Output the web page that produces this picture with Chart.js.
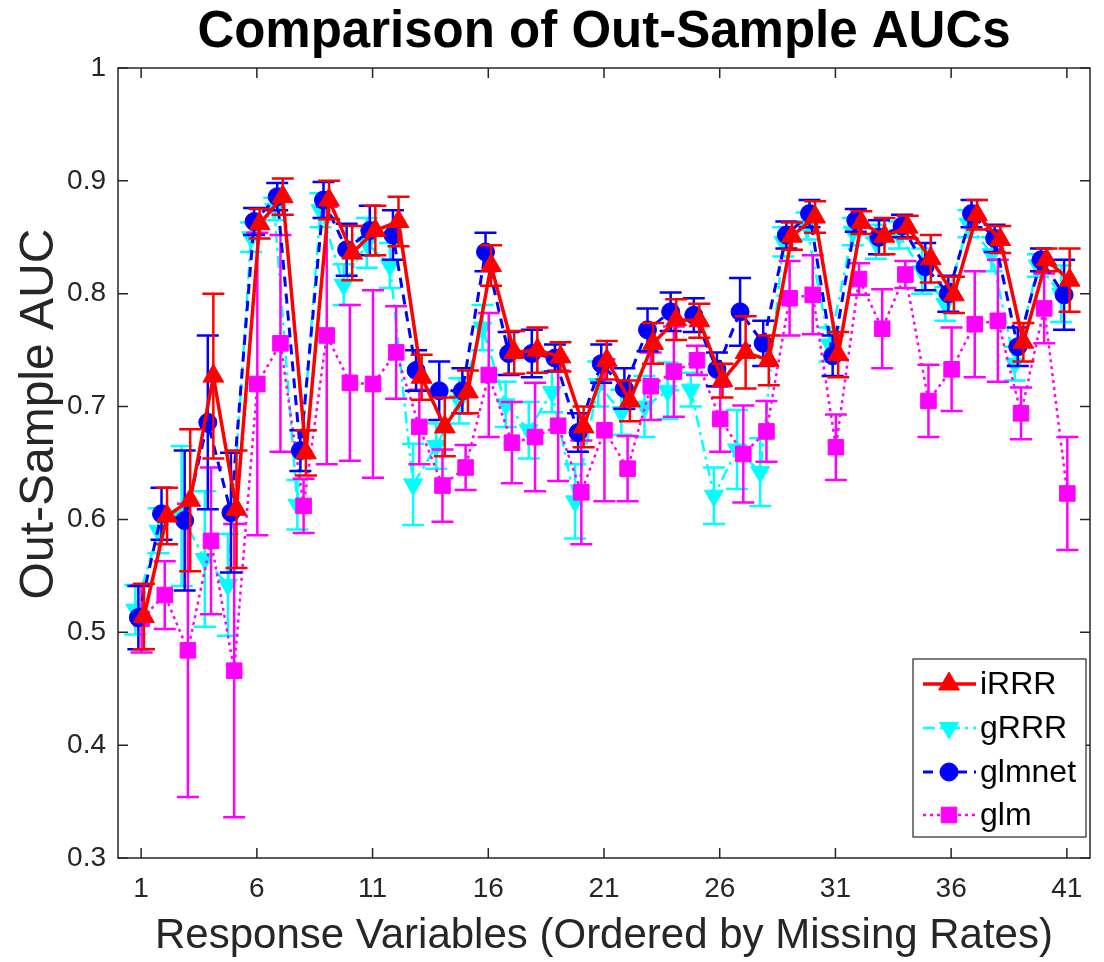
<!DOCTYPE html>
<html>
<head>
<meta charset="utf-8">
<title>Comparison of Out-Sample AUCs</title>
<script src="https://cdn.jsdelivr.net/npm/chart.js@4.4.1/dist/chart.umd.min.js"></script>
<style>
  html, body { margin: 0; padding: 0; background: #fff; }
  #wrap { width: 1104px; height: 962px; }
</style>
</head>
<body>
<div id="wrap"><canvas id="auc-chart" width="1104" height="962"></canvas></div>
<script>
// Response variables, ordered by missing rate
const variables = [1, 2, 3, 4, 5, 6, 7, 8, 9, 10, 11, 12, 13, 14, 15, 16, 17, 18, 19, 20,
    21, 22, 23, 24, 25, 26, 27, 28, 29, 30, 31, 32, 33, 34, 35, 36, 37, 38, 39, 40, 41];
const xTicks = [1, 6, 11, 16, 21, 26, 31, 36, 41];
const yTicks = [0.3, 0.4, 0.5, 0.6, 0.7, 0.8, 0.9, 1];

// mean AUC per method
const iRRR = [0.514, 0.603, 0.617, 0.727, 0.609, 0.862, 0.886, 0.659, 0.883, 0.836,
    0.856, 0.864, 0.726, 0.682, 0.713, 0.825, 0.748, 0.750, 0.744, 0.682,
    0.741, 0.705, 0.756, 0.777, 0.776, 0.723, 0.748, 0.741, 0.851, 0.868,
    0.746, 0.863, 0.851, 0.859, 0.831, 0.799, 0.870, 0.848, 0.757, 0.830, 0.812];
const gRRR = [0.520, 0.590, 0.603, 0.565, 0.542, 0.850, 0.875, 0.613, 0.874, 0.808,
    0.845, 0.825, 0.631, 0.665, 0.705, 0.770, 0.702, 0.679, 0.713, 0.616,
    0.720, 0.695, 0.700, 0.714, 0.715, 0.621, 0.662, 0.642, 0.846, 0.860,
    0.755, 0.855, 0.846, 0.852, 0.820, 0.791, 0.862, 0.835, 0.738, 0.825, 0.800];
const glmnet = [0.513, 0.605, 0.599, 0.686, 0.606, 0.864, 0.886, 0.661, 0.883, 0.839,
    0.856, 0.852, 0.732, 0.714, 0.714, 0.837, 0.747, 0.747, 0.743, 0.677,
    0.738, 0.716, 0.768, 0.784, 0.781, 0.733, 0.784, 0.756, 0.852, 0.871,
    0.745, 0.865, 0.850, 0.860, 0.824, 0.800, 0.871, 0.849, 0.753, 0.830, 0.799];
const glm = [0.512, 0.533, 0.484, 0.581, 0.466, 0.720, 0.756, 0.612, 0.763, 0.721,
    0.720, 0.748, 0.682, 0.630, 0.646, 0.728, 0.668, 0.673, 0.683, 0.624,
    0.679, 0.645, 0.718, 0.731, 0.741, 0.689, 0.658, 0.678, 0.796, 0.799,
    0.664, 0.813, 0.769, 0.817, 0.705, 0.733, 0.773, 0.776, 0.694, 0.787, 0.623];

// error bar half-widths
const iRRRErr = [0.029, 0.025, 0.063, 0.073, 0.052, 0.013, 0.016, 0.020, 0.017, 0.024,
    0.022, 0.022, 0.020, 0.026, 0.019, 0.018, 0.019, 0.020, 0.013, 0.018,
    0.017, 0.018, 0.018, 0.018, 0.015, 0.015, 0.032, 0.022, 0.012, 0.014,
    0.020, 0.010, 0.016, 0.010, 0.021, 0.016, 0.013, 0.012, 0.017, 0.010, 0.028];
const gRRRErr = [0.022, 0.020, 0.062, 0.060, 0.045, 0.013, 0.010, 0.022, 0.015, 0.018,
    0.022, 0.020, 0.036, 0.020, 0.020, 0.020, 0.020, 0.025, 0.018, 0.033,
    0.020, 0.020, 0.027, 0.025, 0.015, 0.025, 0.035, 0.030, 0.013, 0.012,
    0.015, 0.012, 0.015, 0.012, 0.020, 0.015, 0.012, 0.015, 0.015, 0.010, 0.025];
const glmnetErr = [0.028, 0.023, 0.062, 0.077, 0.053, 0.012, 0.012, 0.018, 0.016, 0.023,
    0.022, 0.022, 0.018, 0.026, 0.020, 0.017, 0.019, 0.021, 0.012, 0.017,
    0.017, 0.018, 0.019, 0.017, 0.015, 0.015, 0.030, 0.020, 0.012, 0.012,
    0.018, 0.010, 0.015, 0.010, 0.021, 0.016, 0.012, 0.012, 0.017, 0.010, 0.031];
const glmErr = [0.030, 0.030, 0.130, 0.065, 0.130, 0.134, 0.096, 0.024, 0.114, 0.069,
    0.083, 0.041, 0.033, 0.032, 0.020, 0.055, 0.036, 0.048, 0.049, 0.046,
    0.063, 0.029, 0.030, 0.040, 0.013, 0.029, 0.043, 0.027, 0.033, 0.035,
    0.029, 0.014, 0.035, 0.012, 0.032, 0.037, 0.047, 0.054, 0.023, 0.031, 0.050];

const FONT = '"Liberation Sans", Arial, Helvetica, sans-serif';
const AXIS_COLOR = '#262626';

function series(label, values, errors, shift, style) {
    return Object.assign({
        label: label,
        data: variables.map((v, i) => ({ x: v + shift, y: values[i] })),
        errorBars: errors,
        showLine: true,
        pointBorderWidth: 1
    }, style);
}

const datasets = [
    series('iRRR', iRRR, iRRRErr, 0.12, {
        borderColor: '#ff0000', backgroundColor: '#ff0000', borderWidth: 3.5,
        pointStyle: 'triangle', pointRadius: 12, pointRotation: 0, order: 0
    }),
    series('gRRR', gRRR, gRRRErr, -0.25, {
        borderColor: '#00ffff', backgroundColor: '#00ffff', borderWidth: 2.5,
        borderDash: [12, 5, 3, 5], pointStyle: 'triangle', pointRadius: 11,
        pointRotation: 180, order: 3
    }),
    series('glmnet', glmnet, glmnetErr, -0.12, {
        borderColor: '#0000ff', backgroundColor: '#0000ff', borderWidth: 3,
        borderDash: [10, 7], pointStyle: 'circle', pointRadius: 9, order: 1
    }),
    series('glm', glm, glmErr, 0.02, {
        borderColor: '#ff00ff', backgroundColor: '#ff00ff', borderWidth: 2.5,
        borderDash: [3, 4], pointStyle: 'rect', pointRadius: 11, order: 2
    })
];

// error bars drawn just before each dataset so markers sit on top
const errorBarPlugin = {
    id: 'errorBars',
    beforeDatasetDraw(chart, args) {
        const ds = chart.data.datasets[args.index];
        if (!ds.errorBars) return;
        const ctx = chart.ctx;
        const yScale = chart.scales.y;
        const area = chart.chartArea;
        ctx.save();
        ctx.beginPath();
        ctx.rect(area.left, area.top, area.right - area.left, area.bottom - area.top);
        ctx.clip();
        ctx.strokeStyle = ds.borderColor;
        ctx.lineWidth = 2.5;
        ctx.setLineDash([]);
        args.meta.data.forEach((pt, i) => {
            const v = ds.data[i].y;
            const e = ds.errorBars[i];
            const top = yScale.getPixelForValue(v + e);
            const bot = yScale.getPixelForValue(v - e);
            ctx.beginPath();
            ctx.moveTo(pt.x, top); ctx.lineTo(pt.x, bot);
            ctx.moveTo(pt.x - 11, top); ctx.lineTo(pt.x + 11, top);
            ctx.moveTo(pt.x - 11, bot); ctx.lineTo(pt.x + 11, bot);
            ctx.stroke();
        });
        ctx.restore();
    }
};

// box, inward ticks, titles and legend in the MATLAB look
const framePlugin = {
    id: 'frame',
    afterDraw(chart) {
        const ctx = chart.ctx;
        const a = chart.chartArea;
        const xs = chart.scales.x, ys = chart.scales.y;
        ctx.save();
        ctx.strokeStyle = AXIS_COLOR;
        ctx.lineWidth = 1.5;
        ctx.setLineDash([]);
        ctx.strokeRect(a.left, a.top, a.right - a.left, a.bottom - a.top);
        ctx.beginPath();
        xTicks.forEach(v => {
            const px = xs.getPixelForValue(v);
            ctx.moveTo(px, a.bottom); ctx.lineTo(px, a.bottom - 10);
            ctx.moveTo(px, a.top); ctx.lineTo(px, a.top + 10);
        });
        yTicks.forEach(v => {
            const py = ys.getPixelForValue(v);
            ctx.moveTo(a.left, py); ctx.lineTo(a.left + 10, py);
            ctx.moveTo(a.right, py); ctx.lineTo(a.right - 10, py);
        });
        ctx.stroke();

        // title
        ctx.fillStyle = '#000';
        ctx.font = 'bold 51px ' + FONT;
        ctx.textAlign = 'center';
        ctx.textBaseline = 'middle';
        ctx.fillText('Comparison of Out-Sample AUCs', (a.left + a.right) / 2, 33);

        // y axis label
        ctx.save();
        ctx.translate(40, 414);
        ctx.rotate(-Math.PI / 2);
        ctx.fillStyle = AXIS_COLOR;
        ctx.font = '48px ' + FONT;
        ctx.fillText('Out-Sample AUC', 0, 0);
        ctx.restore();

        // legend
        const box = { left: 913, top: 659, right: 1086, bottom: 837 };
        ctx.fillStyle = '#fff';
        ctx.fillRect(box.left, box.top, box.right - box.left, box.bottom - box.top);
        ctx.strokeStyle = AXIS_COLOR;
        ctx.lineWidth = 1.2;
        ctx.strokeRect(box.left, box.top, box.right - box.left, box.bottom - box.top);
        const rows = [684, 728, 772, 815];
        datasets.forEach((ds, i) => {
            const y = rows[i];
            ctx.strokeStyle = ds.borderColor;
            ctx.lineWidth = ds.borderWidth;
            ctx.setLineDash(ds.borderDash || []);
            ctx.beginPath();
            ctx.moveTo(923, y); ctx.lineTo(976, y);
            ctx.stroke();
            ctx.setLineDash([]);
            ctx.fillStyle = ds.backgroundColor;
            ctx.lineWidth = 1;
            Chart.helpers.drawPoint(ctx, {
                pointStyle: ds.pointStyle, rotation: ds.pointRotation || 0,
                radius: ds.pointRadius, borderWidth: 1
            }, 949, y);
            ctx.fillStyle = '#000';
            ctx.font = '32px ' + FONT;
            ctx.textAlign = 'left';
            ctx.textBaseline = 'middle';
            ctx.fillText(ds.label, 980, y + 1);
        });
        ctx.restore();
    }
};

new Chart(document.getElementById('auc-chart'), {
    type: 'scatter',
    data: { datasets: datasets },
    options: {
        responsive: false,
        animation: false,
        devicePixelRatio: 1,
        layout: { padding: { top: 68, right: 14, bottom: 0, left: 0 } },
        plugins: {
            legend: { display: false },
            tooltip: { enabled: false }
        },
        scales: {
            x: {
                type: 'linear', min: 0, max: 42,
                afterBuildTicks: s => { s.ticks = xTicks.map(v => ({ value: v })); },
                afterFit: s => { s.height = 104; },
                grid: { display: false, drawTicks: false },
                border: { display: false },
                ticks: {
                    autoSkip: false, maxRotation: 0, padding: 14,
                    color: AXIS_COLOR, font: { family: FONT, size: 28 }
                },
                title: {
                    display: true, text: 'Response Variables (Ordered by Missing Rates)',
                    color: AXIS_COLOR, font: { family: FONT, size: 42 },
                    padding: { top: 0, bottom: 0 }
                }
            },
            y: {
                type: 'linear', min: 0.3, max: 1,
                afterBuildTicks: s => { s.ticks = yTicks.map(v => ({ value: v })); },
                afterFit: s => { s.width = 118; },
                grid: { display: false, drawTicks: false },
                border: { display: false },
                ticks: {
                    padding: 12, color: AXIS_COLOR, font: { family: FONT, size: 28 },
                    callback: v => (v === 1 ? '1' : v.toFixed(1))
                }
            }
        }
    },
    plugins: [errorBarPlugin, framePlugin]
});
</script>
</body>
</html>
